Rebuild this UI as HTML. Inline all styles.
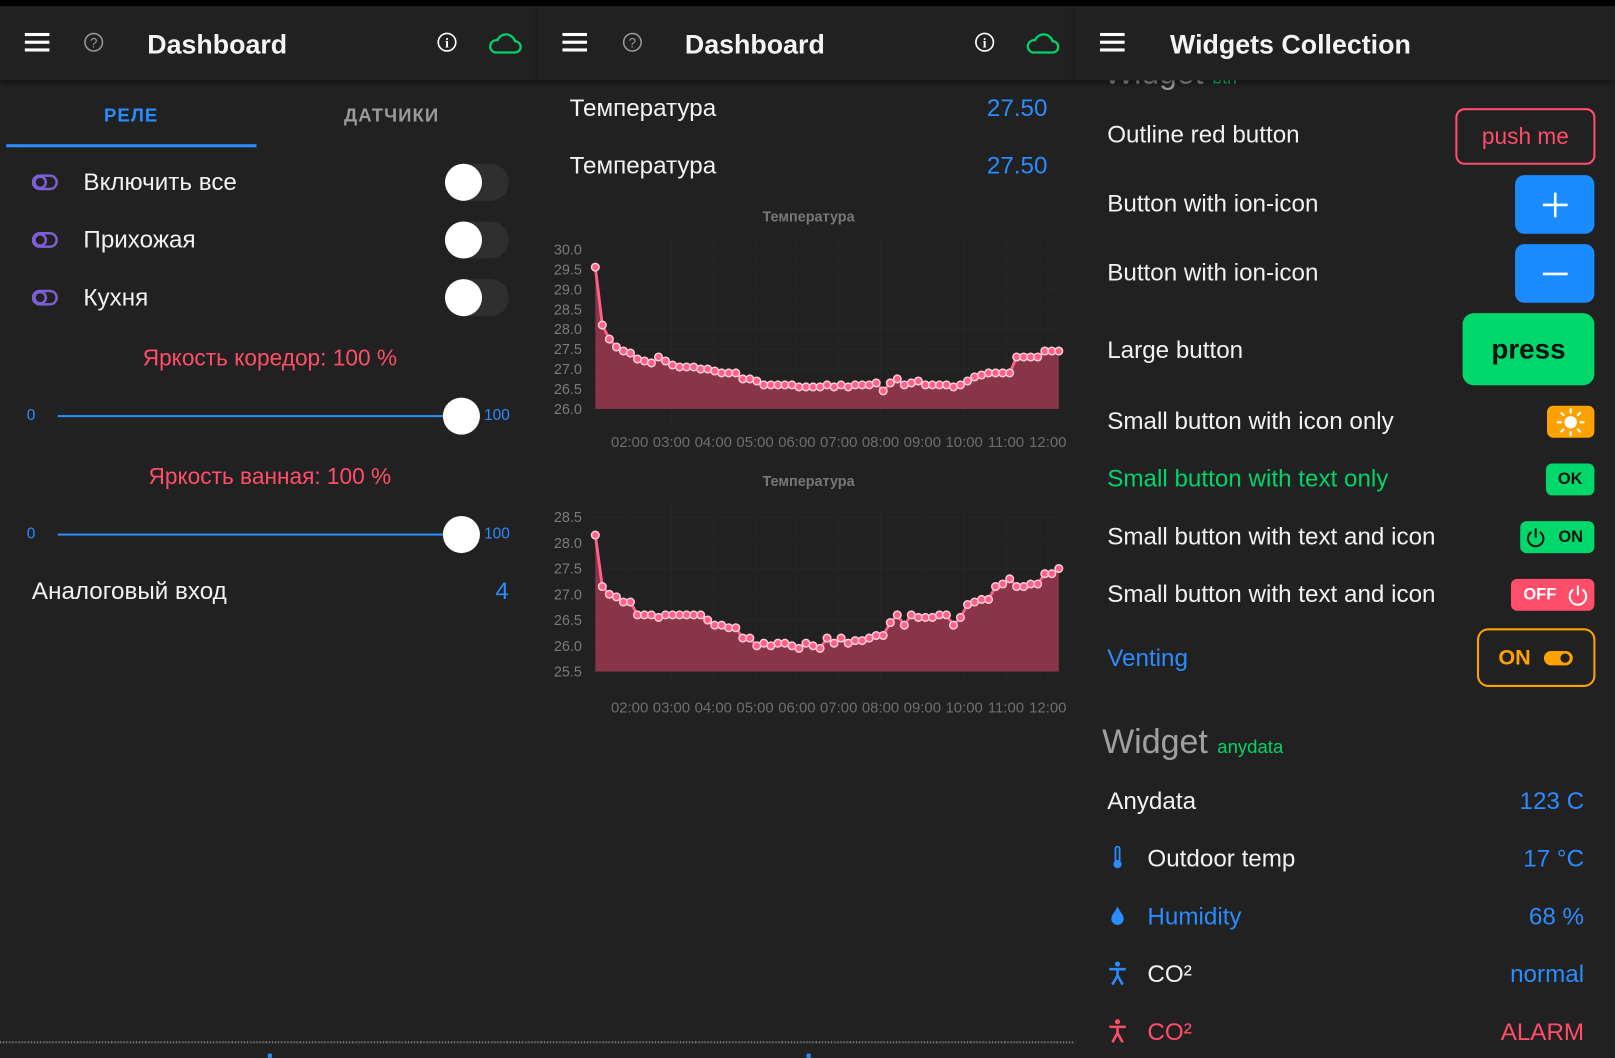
<!DOCTYPE html>
<html><head><meta charset="utf-8">
<style>
html,body{margin:0;padding:0;background:#212121;overflow:hidden;}
#root{position:absolute;left:0;top:0;width:1568px;height:1027px;transform:scale(1.02997);transform-origin:0 0;background:#212121;font-family:"Liberation Sans",sans-serif;color:#fff;}
.a{position:absolute;white-space:nowrap;}
.hdr{position:absolute;top:6px;height:72px;background:#212121;box-shadow:0 3px 4px rgba(0,0,0,.45);z-index:5;}
.ttl{position:absolute;top:22px;font-size:26px;font-weight:bold;color:#f4f4f4;}
.t{font-size:23.5px;color:#f2f2f2;transform:translateY(-50%);}
.blue{color:#2a8cff}
.red{color:#ff4d6a}
.green{color:#00d46a}
.tog{position:absolute;width:62px;height:36px;border-radius:18px;background:#2f2f2f;}
.tog:after{content:"";position:absolute;left:0;top:0;width:36px;height:36px;border-radius:50%;background:#fff;}
.btn{position:absolute;border-radius:9px;display:flex;align-items:center;justify-content:center;}
</style></head><body><div id="root">
<div class="a" style="left:0;top:0;width:1568px;height:6px;background:#000;z-index:6"></div>

<div class="hdr" style="left:0;width:522px">
 <svg class="a" style="left:24px;top:25px" width="24" height="20"><rect y="1" width="24" height="3" fill="#fff"/><rect y="8.5" width="24" height="3" fill="#fff"/><rect y="16" width="24" height="3" fill="#fff"/></svg>
 <svg class="a" style="left:81px;top:25px" width="20" height="20"><circle cx="10" cy="10" r="8.5" fill="none" stroke="#999" stroke-width="1.5"/><text x="10" y="15" font-size="13" fill="#999" text-anchor="middle" font-family="Liberation Sans">?</text></svg>
 <div class="ttl" style="left:143px">Dashboard</div>
 <svg class="a" style="left:424px;top:25px" width="20" height="20"><circle cx="10" cy="10" r="8.5" fill="none" stroke="#fff" stroke-width="1.6"/><text x="10" y="15" font-size="13" font-weight="bold" fill="#fff" text-anchor="middle" font-family="Liberation Serif">i</text></svg>
 <svg class="a" style="left:473px;top:24px" width="34" height="24"><path d="M8 21 H27 A5.5 5.5 0 0 0 27 10 A9 9 0 0 0 10 9 A6 6 0 0 0 8 21 Z" fill="none" stroke="#00d46a" stroke-width="2.2"/></svg>
</div>
<div class="hdr" style="left:522px;width:522px">
 <svg class="a" style="left:24px;top:25px" width="24" height="20"><rect y="1" width="24" height="3" fill="#fff"/><rect y="8.5" width="24" height="3" fill="#fff"/><rect y="16" width="24" height="3" fill="#fff"/></svg>
 <svg class="a" style="left:82px;top:25px" width="20" height="20"><circle cx="10" cy="10" r="8.5" fill="none" stroke="#999" stroke-width="1.5"/><text x="10" y="15" font-size="13" fill="#999" text-anchor="middle" font-family="Liberation Sans">?</text></svg>
 <div class="ttl" style="left:143px">Dashboard</div>
 <svg class="a" style="left:424px;top:25px" width="20" height="20"><circle cx="10" cy="10" r="8.5" fill="none" stroke="#fff" stroke-width="1.6"/><text x="10" y="15" font-size="13" font-weight="bold" fill="#fff" text-anchor="middle" font-family="Liberation Serif">i</text></svg>
 <svg class="a" style="left:473px;top:24px" width="34" height="24"><path d="M8 21 H27 A5.5 5.5 0 0 0 27 10 A9 9 0 0 0 10 9 A6 6 0 0 0 8 21 Z" fill="none" stroke="#00d46a" stroke-width="2.2"/></svg>
</div>
<div class="hdr" style="left:1044px;width:524px">
 <svg class="a" style="left:24px;top:25px" width="24" height="20"><rect y="1" width="24" height="3" fill="#fff"/><rect y="8.5" width="24" height="3" fill="#fff"/><rect y="16" width="24" height="3" fill="#fff"/></svg>
 <div class="ttl" style="left:92px">Widgets Collection</div>
</div>

<div class="a" style="left:101px;top:102px;font-size:18px;font-weight:bold;letter-spacing:1px;color:#2a8cff">РЕЛЕ</div>
<div class="a" style="left:334px;top:102px;font-size:18px;font-weight:bold;letter-spacing:1px;color:#9a9a9a">ДАТЧИКИ</div>
<div class="a" style="left:6px;top:140px;width:243px;height:3px;background:#2a8cff"></div>

<svg class="a" style="left:31px;top:169px" width="26" height="16"><rect x="1" y="1.5" width="23" height="13" rx="6.5" fill="none" stroke="#7e5fd6" stroke-width="2.4"/><circle cx="8" cy="8" r="5.5" fill="none" stroke="#7e5fd6" stroke-width="2.4"/></svg>
<div class="a t" style="left:81px;top:177px">Включить все</div>
<div class="tog" style="left:432px;top:159px"></div>
<svg class="a" style="left:31px;top:225px" width="26" height="16"><rect x="1" y="1.5" width="23" height="13" rx="6.5" fill="none" stroke="#7e5fd6" stroke-width="2.4"/><circle cx="8" cy="8" r="5.5" fill="none" stroke="#7e5fd6" stroke-width="2.4"/></svg>
<div class="a t" style="left:81px;top:233px">Прихожая</div>
<div class="tog" style="left:432px;top:215px"></div>
<svg class="a" style="left:31px;top:281px" width="26" height="16"><rect x="1" y="1.5" width="23" height="13" rx="6.5" fill="none" stroke="#7e5fd6" stroke-width="2.4"/><circle cx="8" cy="8" r="5.5" fill="none" stroke="#7e5fd6" stroke-width="2.4"/></svg>
<div class="a t" style="left:81px;top:289px">Кухня</div>
<div class="tog" style="left:432px;top:271px"></div>

<div class="a red" style="left:0;width:524px;text-align:center;top:335px;font-size:22px">Яркость коредор: 100 %</div>
<div class="a blue" style="left:26px;top:395px;font-size:15px">0</div>
<div class="a" style="left:56px;top:403px;width:392px;height:2px;background:#2a8cff"></div>
<div class="a" style="left:430px;top:386px;width:36px;height:36px;border-radius:50%;background:#fff"></div>
<div class="a blue" style="left:470px;top:395px;font-size:15px">100</div>

<div class="a red" style="left:0;width:524px;text-align:center;top:450px;font-size:22px">Яркость ванная: 100 %</div>
<div class="a blue" style="left:26px;top:510px;font-size:15px">0</div>
<div class="a" style="left:56px;top:518px;width:392px;height:2px;background:#2a8cff"></div>
<div class="a" style="left:430px;top:501px;width:36px;height:36px;border-radius:50%;background:#fff"></div>
<div class="a blue" style="left:470px;top:510px;font-size:15px">100</div>

<div class="a t" style="left:31px;top:574px">Аналоговый вход</div>
<div class="a t blue" style="left:481px;top:574px">4</div>

<div class="a" style="left:0;top:1011px;width:1044px;height:2px;background:repeating-linear-gradient(90deg,#777 0 1px,#333 1px 3px)"></div>
<div class="a" style="left:260px;top:1023px;width:4px;height:4px;background:#2a8cff"></div>
<div class="a" style="left:783px;top:1023px;width:4px;height:4px;background:#2a8cff"></div>

<div class="a t" style="left:553px;top:105px">Температура</div>
<div class="a t blue" style="right:551px;top:105px">27.50</div>
<div class="a t" style="left:553px;top:161px">Температура</div>
<div class="a t blue" style="right:551px;top:161px">27.50</div>
<div id="charts"></div>

<div class="a" style="left:1072px;top:53px;font-size:31px;color:#999">Widget <span style="font-size:17px;color:#00d46a">btn</span></div>
<div class="a t" style="left:1075px;top:131px">Outline red button</div>
<div class="btn" style="left:1413px;top:105px;width:132px;height:51px;border:2px solid #ff4d6a;color:#ff4d6a;font-size:22px">push me</div>
<div class="a t" style="left:1075px;top:198px">Button with ion-icon</div>
<div class="btn" style="left:1471px;top:170px;width:77px;height:57px;background:#1a8cff"><svg width="26" height="26"><path d="M13 1V25M1 13H25" stroke="#fff" stroke-width="2.5"/></svg></div>
<div class="a t" style="left:1075px;top:265px">Button with ion-icon</div>
<div class="btn" style="left:1471px;top:237px;width:77px;height:57px;background:#1a8cff"><svg width="26" height="26"><path d="M1 13H25" stroke="#fff" stroke-width="2.5"/></svg></div>
<div class="a t" style="left:1075px;top:340px">Large button</div>
<div class="btn" style="left:1420px;top:304px;width:128px;height:70px;background:#00d86b;color:#111;font-size:27px;font-weight:bold;border-radius:11px">press</div>
<div class="a t" style="left:1075px;top:409px">Small button with icon only</div>
<div class="btn" style="left:1502px;top:394px;width:46px;height:31px;background:#ffa200;border-radius:6px"><svg width="28" height="28" viewBox="0 0 28 28"><circle cx="14" cy="14" r="6" fill="#fff"/><g stroke="#fff" stroke-width="2.2" stroke-linecap="round"><path d="M14 1.5v3M14 23.5v3M1.5 14h3M23.5 14h3M5 5l2 2M21 21l2 2M5 23l2-2M21 7l2-2"/></g></svg></div>
<div class="a t green" style="left:1075px;top:465px">Small button with text only</div>
<div class="btn" style="left:1501px;top:450px;width:47px;height:31px;background:#00d86b;color:#111;font-size:16px;font-weight:bold;border-radius:6px">OK</div>
<div class="a t" style="left:1075px;top:521px">Small button with text and icon</div>
<div class="btn" style="left:1476px;top:506px;width:72px;height:31px;background:#00d86b;color:#111;font-size:16px;font-weight:bold;border-radius:6px;justify-content:space-between;padding:0 11px 0 4px;box-sizing:border-box"><svg width="22" height="22"><path d="M7 5.5A7.5 7.5 0 1 0 15 5.5" fill="none" stroke="#111" stroke-width="2"/><path d="M11 2V11" stroke="#111" stroke-width="2"/></svg>ON</div>
<div class="a t" style="left:1075px;top:577px">Small button with text and icon</div>
<div class="btn" style="left:1467px;top:562px;width:81px;height:31px;background:#ff4d6a;color:#fff;font-size:16px;font-weight:bold;border-radius:6px;justify-content:space-between;padding:0 4px 0 12px;box-sizing:border-box">OFF<svg width="24" height="24"><path d="M7.5 6.5A8 8 0 1 0 16.5 6.5" fill="none" stroke="#fff" stroke-width="2"/><path d="M12 2.5V12" stroke="#fff" stroke-width="2"/></svg></div>
<div class="a t blue" style="left:1075px;top:639px">Venting</div>
<div class="btn" style="left:1434px;top:610px;width:111px;height:53px;border:2px solid #ffa200;border-radius:11px;color:#ffa200;font-size:21px;font-weight:bold;gap:12px">ON<svg width="30" height="18"><rect x="1" y="2" width="28" height="14" rx="7" fill="#ffa200"/><circle cx="21.5" cy="9" r="4.5" fill="#212121"/></svg></div>

<div class="a" style="left:1070px;top:701px;font-size:33px;color:#a0a0a0">Widget <span style="font-size:18px;color:#00d46a">anydata</span></div>
<div class="a t" style="left:1075px;top:778px">Anydata</div>
<div class="a t blue" style="right:30px;top:778px">123 C</div>
<svg class="a" style="left:1079px;top:821px" width="12" height="24"><rect x="4" y="1" width="4" height="15" rx="2" fill="none" stroke="#2a8cff" stroke-width="1.8"/><circle cx="6" cy="18" r="4" fill="#2a8cff"/></svg>
<div class="a t" style="left:1114px;top:834px">Outdoor temp</div>
<div class="a t blue" style="right:30px;top:834px">17 °C</div>
<svg class="a" style="left:1078px;top:879px" width="14" height="20"><path d="M7 1C5 6 1 9 1 13a6 6 0 0 0 12 0C13 9 9 6 7 1Z" fill="#2a8cff"/></svg>
<div class="a t blue" style="left:1114px;top:890px">Humidity</div>
<div class="a t blue" style="right:30px;top:890px">68 %</div>
<svg class="a" style="left:1076px;top:933px" width="18" height="24"><circle cx="9" cy="3" r="2.5" fill="#2a8cff"/><path d="M1 8H17M9 8V14M9 14L4 23M9 14L14 23" stroke="#2a8cff" stroke-width="2.5" fill="none"/></svg>
<div class="a t" style="left:1114px;top:946px">CO²</div>
<div class="a t blue" style="right:30px;top:946px">normal</div>
<svg class="a" style="left:1076px;top:989px" width="18" height="24"><circle cx="9" cy="3" r="2.5" fill="#ff4d6a"/><path d="M1 8H17M9 8V14M9 14L4 23M9 14L14 23" stroke="#ff4d6a" stroke-width="2.5" fill="none"/></svg>
<div class="a t red" style="left:1114px;top:1002px">CO²</div>
<div class="a t red" style="right:30px;top:1002px">ALARM</div>
</div>
<script>
var d1=[29.55,28.1,27.75,27.55,27.45,27.4,27.25,27.2,27.15,27.3,27.2,27.1,27.05,27.05,27.05,27.0,27.0,26.95,26.9,26.9,26.9,26.75,26.75,26.7,26.6,26.6,26.6,26.6,26.6,26.55,26.55,26.55,26.55,26.6,26.55,26.6,26.55,26.6,26.6,26.6,26.65,26.45,26.65,26.75,26.6,26.65,26.7,26.6,26.6,26.6,26.6,26.55,26.6,26.7,26.8,26.85,26.9,26.9,26.9,26.9,27.3,27.3,27.3,27.3,27.45,27.45,27.45];
var d2=[28.15,27.15,27.0,26.95,26.85,26.85,26.6,26.6,26.6,26.55,26.6,26.6,26.6,26.6,26.6,26.6,26.5,26.4,26.4,26.35,26.35,26.15,26.15,26.0,26.05,26.0,26.05,26.05,26.0,25.95,26.05,26.0,25.95,26.15,26.05,26.15,26.05,26.1,26.1,26.15,26.2,26.2,26.45,26.6,26.4,26.6,26.55,26.55,26.55,26.6,26.6,26.4,26.55,26.8,26.85,26.9,26.9,27.15,27.2,27.3,27.15,27.15,27.2,27.2,27.4,27.4,27.5];
function chart(data,titleY,yTop,yBot,vMin,vMax,labY){
 var x0=578,x1=1028,s='';
 var F='font-family="Liberation Sans,sans-serif"';
 s+='<text x="785" y="'+(titleY+5)+'" font-size="14" font-weight="bold" fill="#777" text-anchor="middle" '+F+'>Температура</text>';
 var n=Math.round((vMax-vMin)/0.5);
 for(var i=0;i<=n;i++){var v=vMin+i*0.5,y=yBot-(v-vMin)/(vMax-vMin)*(yBot-yTop);
  s+='<line x1="570" x2="1030" y1="'+y+'" y2="'+y+'" stroke="#262626"/>';
  s+='<text x="565" y="'+(y+5)+'" font-size="14" fill="#7a7a7a" text-anchor="end" '+F+'>'+v.toFixed(1)+'</text>';}
 for(var h=2;h<=12;h++){var x=611.3+(h-2)*40.6;
  s+='<line x1="'+x+'" x2="'+x+'" y1="'+(yTop-10)+'" y2="'+(yBot+12)+'" stroke="#262626"/>';
  s+='<text x="'+x+'" y="'+(labY+5)+'" font-size="14.5" fill="#6e6e6e" text-anchor="middle" '+F+'>'+(h<10?'0':'')+h+':00</text>';}
 var pts=data.map(function(v,i){return [x0+i*(x1-x0)/(data.length-1), yBot-(v-vMin)/(vMax-vMin)*(yBot-yTop)];});
 var p=pts.map(function(q){return q[0].toFixed(1)+','+q[1].toFixed(1)}).join(' ');
 s+='<polygon points="'+x0+','+yBot+' '+p+' '+x1+','+yBot+'" fill="#8a3547"/>';
 s+='<polyline points="'+p+'" fill="none" stroke="#ff6088" stroke-width="2.8"/>';
 pts.forEach(function(q){s+='<circle cx="'+q[0].toFixed(1)+'" cy="'+q[1].toFixed(1)+'" r="3.7" fill="#ff6088" stroke="#ffd0dc" stroke-width="1.4"/>';});
 return s;
}
document.getElementById('charts').innerHTML='<svg style="position:absolute;left:0;top:0" width="1568" height="1027">'+chart(d1,210,242,397,26,30,429)+chart(d2,467,502,652,25.5,28.5,687)+'</svg>';
</script>
</body></html>
